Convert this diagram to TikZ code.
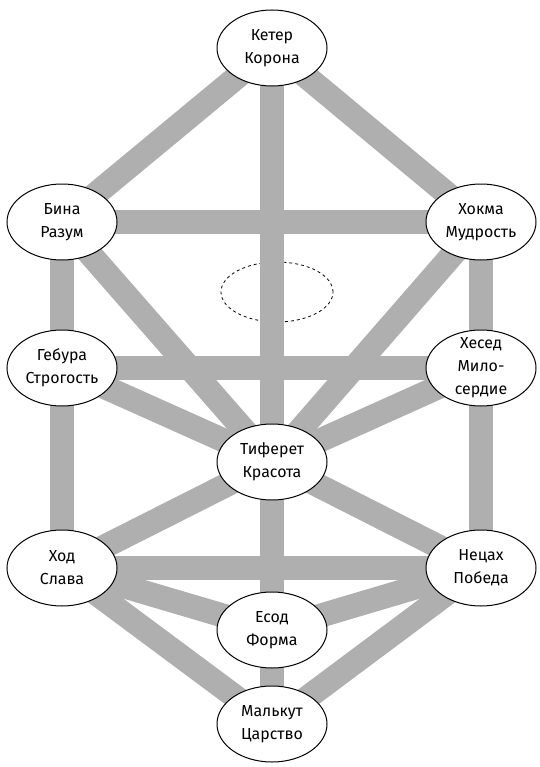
\documentclass[tikz,border=0pt]{standalone}
\usepackage{fontspec}
\setmainfont{Fira Sans}
\usetikzlibrary{shapes.geometric,backgrounds}
\definecolor{putgray}{RGB}{175,175,175}
\tikzset{
    sefira/.style={ellipse, draw, line width=1bp, fill=white, minimum width=110bp, minimum height=76bp, inner sep=0pt, align=center, font=\fontsize{16}{23}\selectfont},
    put/.style={line width=24bp, color=putgray},
    daatline/.style={ellipse, draw, dashed, line width=0.8bp, minimum width=112bp, minimum height=60bp}
}

\begin{document}
\begin{tikzpicture}[x=1bp,y=-1bp]
            \useasboundingbox (0,0) rectangle (540,767);

            \node[sefira] (keter) at (272,48) {Кетер\\Корона};
            \node[sefira] (bina) at (62,222) {Бина\\Разум};
            \node[sefira] (hokhma) at (481,222) {Хокма\\Мудрость};
            \node[sefira] (gebura) at (62,368) {Гебура\\Строгость};
            \node[sefira, inner ysep=-8bp] (hesed) at (481,368) {Хесед\\Мило-\\сердие};
            \node[sefira] (tiferet) at (272,462) {Тиферет\\Красота};
            \node[sefira] (hod) at (62,568) {Ход\\Слава};
            \node[sefira] (netzah) at (481,568) {Нецах\\Победа};
            \node[sefira] (yesod) at (272,630) {Есод\\Форма};
            \node[sefira] (malkut) at (272,724) {Малькут\\Царство};

            \begin{scope}[on background layer]
                \node[daatline] (daat) at (277,292) {};
                \draw[put] (keter.center) -- (bina.center);
                \draw[put] (keter.center) -- (hokhma.center);
                \draw[put] (keter.center) -- (tiferet.center);
                \draw[put] (bina.center) -- (hokhma.center);
                \draw[put] (bina.center) -- (gebura.center);
                \draw[put] (bina.center) -- (tiferet.center);
                \draw[put] (hokhma.center) -- (hesed.center);
                \draw[put] (hokhma.center) -- (tiferet.center);
                \draw[put] (gebura.center) -- (hesed.center);
                \draw[put] (gebura.center) -- (tiferet.center);
                \draw[put] (hesed.center) -- (tiferet.center);
                \draw[put] (gebura.center) -- (hod.center);
                \draw[put] (hesed.center) -- (netzah.center);
                \draw[put] (tiferet.center) -- (hod.center);
                \draw[put] (tiferet.center) -- (netzah.center);
                \draw[put] (tiferet.center) -- (yesod.center);
                \draw[put] (hod.center) -- (netzah.center);
                \draw[put] (hod.center) -- (yesod.center);
                \draw[put] (netzah.center) -- (yesod.center);
                \draw[put] (hod.center) -- (malkut.center);
                \draw[put] (netzah.center) -- (malkut.center);
                \draw[put] (yesod.center) -- (malkut.center);
            \end{scope}
        \end{tikzpicture}
\end{document}
